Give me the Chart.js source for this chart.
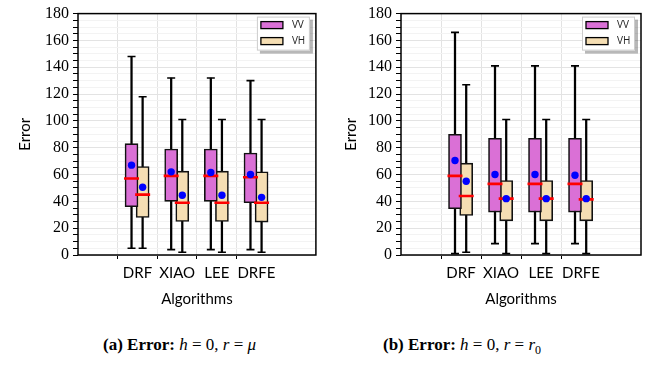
<!DOCTYPE html>
<html>
<head>
<meta charset="utf-8">
<script src="https://cdn.jsdelivr.net/npm/chart.js@4.4.0/dist/chart.umd.min.js"></script>
<style>
  body { margin: 0; background: #fff; width: 652px; height: 367px; overflow: hidden; }
  .panel { position: absolute; top: 0; width: 326px; height: 312px; }
  .cap { position: absolute; top: 335px; font-family: "Liberation Serif", serif; font-size: 17px; color: #000; white-space: nowrap; }
  .cap b { font-weight: bold; }
</style>
</head>
<body>
<div class="panel" style="left:0"><canvas id="chartA" width="326" height="312"></canvas></div>
<div class="panel" style="left:326px"><canvas id="chartB" width="326" height="312"></canvas></div>
<div class="cap" style="left:103px"><b>(a) Error:</b> <i>h</i> = 0, <i>r</i> = <i>μ</i></div>
<div class="cap" style="left:383px"><b>(b) Error:</b> <i>h</i> = 0, <i>r</i> = <i>r</i><sub style="font-size:12px">0</sub></div>
<script>
// categories on the x axis
const CATS = ['DRF', 'XIAO', 'LEE', 'DRFE'];
const SERIES = ['VV', 'VH'];

// (a) h = 0, r = mu
const A_VV_MIN  = [5, 4, 4, 4];
const A_VV_Q1   = [36, 40, 40, 39];
const A_VV_MED  = [57, 59, 59, 58];
const A_VV_Q3   = [83, 79, 79, 76];
const A_VV_MAX  = [148, 132, 132, 130];
const A_VV_MEAN = [67, 62, 61.5, 60];
const A_VH_MIN  = [5, 2, 2, 2];
const A_VH_Q1   = [28, 25, 25, 24.5];
const A_VH_MED  = [45, 39, 39, 39];
const A_VH_Q3   = [66, 62.5, 62.5, 62];
const A_VH_MAX  = [118, 101, 101, 101];
const A_VH_MEAN = [50.5, 44.5, 44.5, 43];

// (b) h = 0, r = r0
const B_VV_MIN  = [1, 8.5, 8.5, 8.5];
const B_VV_Q1   = [34.5, 32, 32, 32];
const B_VV_MED  = [59, 53, 53, 53];
const B_VV_Q3   = [90, 87, 87, 87];
const B_VV_MAX  = [166, 141, 141, 141];
const B_VV_MEAN = [70.5, 60, 60, 59.5];
const B_VH_MIN  = [2, 1, 1, 1];
const B_VH_Q1   = [29.5, 25.5, 25.5, 25.5];
const B_VH_MED  = [44, 42, 42, 41.5];
const B_VH_Q3   = [68.5, 55.5, 55.5, 55.5];
const B_VH_MAX  = [127, 101, 101, 101];
const B_VH_MEAN = [55, 42, 42, 42];

const Y_TICKS = [0, 20, 40, 60, 80, 100, 120, 140, 160, 180];

const VV_COLOR = '#da70d6';
const VH_COLOR = '#f5deb3';
const OFFSETS = [-0.15, 0.13];

function boxSets(mins, q1, med, q3, maxs, mean, off, fill) {
    var at = (i) => i + off;
    return [
        {   // whisker stem
            type: 'bar', order: 9, grouped: false, barThickness: 1.6,
            data: CATS.map((c, i) => ({x: at(i), y: [mins[i], maxs[i]]})),
            backgroundColor: '#000', borderWidth: 0
        },
        {   // whisker caps
            type: 'scatter', order: 8,
            data: CATS.flatMap((c, i) => [{x: at(i), y: mins[i]}, {x: at(i), y: maxs[i]}]),
            pointStyle: 'line', pointRadius: 4, borderColor: '#000', borderWidth: 1.6
        },
        {   // box
            type: 'bar', order: 5, grouped: false, barThickness: 13,
            data: CATS.map((c, i) => ({x: at(i), y: [q1[i], q3[i]]})),
            backgroundColor: fill, borderColor: '#111', borderWidth: 1.6, borderSkipped: false
        },
        {   // median
            type: 'scatter', order: 2,
            data: CATS.map((c, i) => ({x: at(i), y: med[i]})),
            pointStyle: 'line', pointRadius: 7.5, borderColor: '#ff0000', borderWidth: 2.6
        },
        {   // mean
            type: 'scatter', order: 1,
            data: CATS.map((c, i) => ({x: at(i), y: mean[i]})),
            pointStyle: 'circle', pointRadius: 3.7, backgroundColor: '#0000ff', borderWidth: 0
        }
    ];
}

const framePlugin = {
    id: 'frame',
    afterDraw(chart) {
        const a = chart.chartArea, ctx = chart.ctx;
        ctx.save();
        ctx.strokeStyle = '#000';
        ctx.lineWidth = 1.5;
        ctx.strokeRect(a.left, a.top, a.right - a.left, a.bottom - a.top);

        // legend box, top right inside the plot
        const w = 53, h = 34;
        const x = a.right - 6 - w, y = a.top + 3;
        ctx.fillStyle = 'rgba(0,0,0,0.28)';
        ctx.fillRect(x + 3, y + 3, w, h);
        ctx.fillStyle = '#fff';
        ctx.fillRect(x, y, w, h);
        ctx.strokeStyle = '#cccccc';
        ctx.lineWidth = 1;
        ctx.strokeRect(x + 0.5, y + 0.5, w - 1, h - 1);
        [VV_COLOR, VH_COLOR].forEach((col, k) => {
            const sy = y + 5 + k * 16;
            ctx.fillStyle = col;
            ctx.fillRect(x + 4, sy, 22, 7);
            ctx.strokeStyle = '#000';
            ctx.lineWidth = 1.3;
            ctx.strokeRect(x + 4, sy, 22, 7);
            ctx.fillStyle = '#222';
            ctx.font = '10px "Open Sans"';
            ctx.textBaseline = 'middle';
            ctx.fillText(SERIES[k], x + 35, sy + 4);
        });
        ctx.restore();
    }
};

function makeChart(id, sets, yWidth, padRight) {
    const isCat = (v) => v >= 0 && v < CATS.length;
    const tv = (c) => c.tick ? c.tick.value : -1;
    new Chart(document.getElementById(id), {
        data: { datasets: sets },
        options: {
            responsive: false,
            animation: false,
            layout: { padding: { left: 0, right: padRight, top: 13, bottom: 0 } },
            plugins: { legend: { display: false }, tooltip: { enabled: false } },
            scales: {
                x: {
                    type: 'linear', min: -1, max: 4,
                    afterFit: (s) => { s.height = 57; },
                    ticks: {
                        stepSize: 1, autoSkip: false, padding: 5, color: '#000',
                        maxRotation: 0, minRotation: 0,
                        font: { family: 'Lato', size: 15 },
                        callback: (v) => isCat(v) ? CATS[v] : ''
                    },
                    grid: {
                        color: (c) => isCat(tv(c)) ? '#e3e3e3' : 'rgba(0,0,0,0)',
                        tickColor: (c) => isCat(tv(c)) ? '#000' : 'rgba(0,0,0,0)',
                        tickLength: 4, lineWidth: 1
                    },
                    border: { display: false },
                    title: {
                        display: true, text: 'Algorithms', color: '#000',
                        font: { family: 'Lato', size: 15 }, padding: { top: 4, bottom: 4 }
                    }
                },
                y: {
                    min: 0, max: 180,
                    afterFit: (s) => { s.width = yWidth; },
                    afterBuildTicks: (s) => {
                        const t = [];
                        for (let v = 0; v <= 180; v += 5) t.push({value: v});
                        s.ticks = t;
                    },
                    ticks: {
                        autoSkip: false, padding: 4, color: '#000',
                        font: { family: 'Liberation Serif', size: 16 },
                        callback: (v) => Y_TICKS.includes(v) ? String(v) : ''
                    },
                    grid: {
                        color: (c) => tv(c) % 20 === 0 ? '#e3e3e3' : '#f3f3f3',
                        tickColor: '#000',
                        tickLength: 5, lineWidth: 1
                    },
                    border: { display: false },
                    title: {
                        display: true, text: 'Error', color: '#000',
                        font: { family: 'Lato', size: 15 }, padding: { top: 16, bottom: 6 }
                    }
                }
            }
        },
        plugins: [framePlugin]
    });
}

makeChart('chartA', [
    ...boxSets(A_VV_MIN, A_VV_Q1, A_VV_MED, A_VV_Q3, A_VV_MAX, A_VV_MEAN, OFFSETS[0], VV_COLOR),
    ...boxSets(A_VH_MIN, A_VH_Q1, A_VH_MED, A_VH_Q3, A_VH_MAX, A_VH_MEAN, OFFSETS[1], VH_COLOR)
], 78, 7);

makeChart('chartB', [
    ...boxSets(B_VV_MIN, B_VV_Q1, B_VV_MED, B_VV_Q3, B_VV_MAX, B_VV_MEAN, OFFSETS[0], VV_COLOR),
    ...boxSets(B_VH_MIN, B_VH_Q1, B_VH_MED, B_VH_Q3, B_VH_MAX, B_VH_MEAN, OFFSETS[1], VH_COLOR)
], 75, 11);
</script>
</body>
</html>
